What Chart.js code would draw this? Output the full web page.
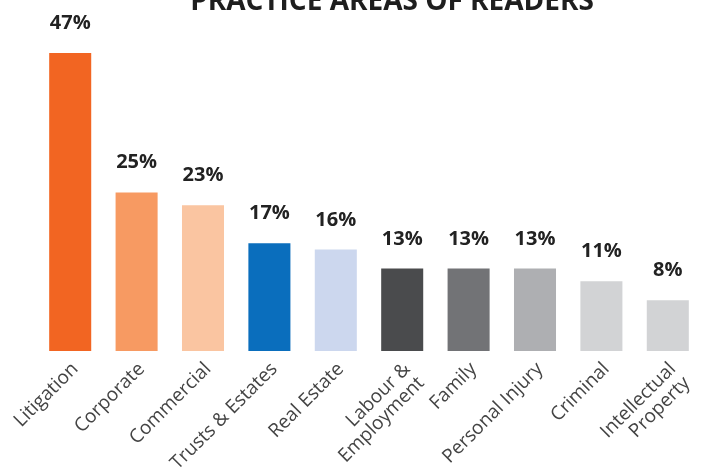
<!DOCTYPE html>
<html>
<head>
<meta charset="utf-8">
<script src="https://cdn.jsdelivr.net/npm/chart.js@4/dist/chart.umd.min.js"></script>
<style>
  html, body { margin: 0; padding: 0; background: #fff; }
  #wrap { width: 705px; height: 468px; position: relative; }
</style>
</head>
<body>
<div id="wrap"><canvas id="chart"></canvas></div>
<script>
// categories (multi-line ones as arrays)
const categories = [
  "Litigation",
  "Corporate",
  "Commercial",
  "Trusts & Estates",
  "Real Estate",
  ["Labour &", "Employment"],
  "Family",
  "Personal Injury",
  "Criminal",
  ["Intellectual", "Property"],
];
// share of readers, percent
const shares = [47, 25, 23, 17, 16, 13, 13, 13, 11, 8];
// bar colours
const barColors = [
  "#F26522",
  "#F79A62",
  "#FAC5A1",
  "#0A6EBD",
  "#CCD7EE",
  "#4A4B4D",
  "#727376",
  "#AEAFB2",
  "#D2D3D5",
  "#D2D3D5",
];
const chartTitle = "PRACTICE AREAS OF READERS";

//draw the percent labels above bars + the title
const labelPlugin = {
  id: "labels",
  afterDatasetsDraw(chart) {
    const ctx = chart.ctx;
    const meta = chart.getDatasetMeta(0);
    ctx.save();
    ctx.fillStyle = "#222222";
    ctx.font = "bold 20px 'Open Sans'";
    ctx.textAlign = "center";
    ctx.textBaseline = "alphabetic";
    meta.data.forEach((bar, i) => {
      ctx.fillText(shares[i] + "%", bar.x, bar.y - 24);
    });
    // title, cut at top like the original
    ctx.font = "bold 28px 'Open Sans'";
    ctx.fillStyle = "#1e1e1e";
    ctx.fillText(chartTitle, 392, 10);
    ctx.restore();
  },
};

new Chart(document.getElementById("chart"), {
  type: "bar",
  plugins: [labelPlugin],
  data: {
    labels: categories,
    datasets: [
      {
        data: shares,
        backgroundColor: barColors,
        borderWidth: 0,
        categoryPercentage: 1,
        barPercentage: 0.633,
      },
    ],
  },
  options: {
    responsive: true,
    maintainAspectRatio: false,
    animation: false,
    layout: { padding: { top: 53, left: 37, right: 4, bottom: 0 } },
    plugins: {
      legend: { display: false },
      tooltip: { enabled: false },
      title: { display: false },
    },
    scales: {
      y: { display: false, min: 0, max: 47 },
      x: {
        // fixed label band so the baseline sits where the original has it
        afterFit(scale) {
          scale.height = 117;
        },
        grid: { display: false, drawTicks: false },
        border: { display: false },
        ticks: {
          color: "#444444",
          font: { family: "'Open Sans'", size: 19, lineHeight: 1.05 },
          minRotation: 45,
          maxRotation: 45,
          autoSkip: false,
          padding: 8,
          labelOffset: 5,
        },
      },
    },
  },
});
</script>
</body>
</html>
